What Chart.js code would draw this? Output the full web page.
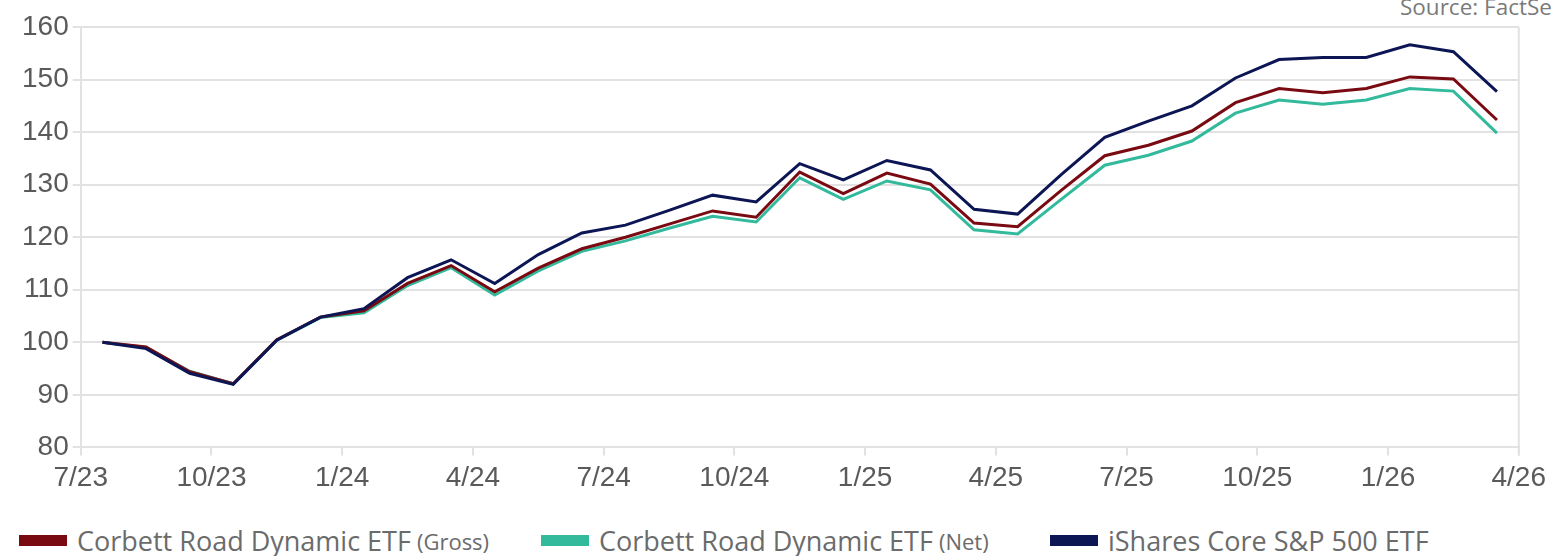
<!DOCTYPE html>
<html>
<head>
<meta charset="utf-8">
<script src="https://cdn.jsdelivr.net/npm/chart.js@4.4.1/dist/chart.umd.min.js"></script>
<style>
  html, body { margin: 0; padding: 0; background: #fff; overflow: hidden; }
  body { width: 1552px; height: 556px; position: relative; }
  #wrap { position: absolute; left: 0; top: 0; width: 1552px; height: 501px; }
  #source {
    position: absolute; left: 1400px; top: -9px; white-space: nowrap;
    font-family: "Open Sans", sans-serif; font-size: 22.5px; color: #7a7a7a;
  }
  #legend {
    position: absolute; left: 0; top: 522px; width: 1552px; height: 34px;
    font-family: "Open Sans", sans-serif; color: #6b6b6b; font-size: 27px;
  }
  .item { position: absolute; top: 0; display: flex; align-items: center; white-space: nowrap; }
  .swatch { width: 48px; height: 11px; margin-right: 10px; }
  .item small { font-size: 22px; margin-left: 6px; }
</style>
</head>
<body>
<div id="source">Source: FactSet</div>
<div id="wrap"><canvas id="chart"></canvas></div>
<div id="legend"></div>
<script>
// ── Data (monthly growth of 100, first point mid 7/23) ──
const months = [
  "Jul 23","Aug 23","Sep 23","Oct 23","Nov 23","Dec 23",
  "Jan 24","Feb 24","Mar 24","Apr 24","May 24","Jun 24",
  "Jul 24","Aug 24","Sep 24","Oct 24","Nov 24","Dec 24",
  "Jan 25","Feb 25","Mar 25","Apr 25","May 25","Jun 25",
  "Jul 25","Aug 25","Sep 25","Oct 25","Nov 25","Dec 25",
  "Jan 26","Feb 26","Mar 26"
];
const quarterLabels = ["7/23","10/23","1/24","4/24","7/24","10/24","1/25","4/25","7/25","10/25","1/26","4/26"];
const yTicks = [80, 90, 100, 110, 120, 130, 140, 150, 160];

const gross = [
  100.0, 99.1, 94.4, 92.1, 100.5, 104.8, 106.0, 111.2, 114.6, 109.6, 114.1,
  117.8, 120.0, 122.5, 125.0, 123.8, 132.4, 128.3, 132.2, 130.1, 122.7, 122.0,
  128.9, 135.5, 137.5, 140.2, 145.6, 148.3, 147.5, 148.3, 150.5, 150.1, 142.3
];
const net = [
  100.0, 99.0, 94.5, 92.1, 100.4, 104.7, 105.6, 110.8, 114.2, 109.0, 113.6,
  117.3, 119.3, 121.7, 124.0, 122.9, 131.3, 127.2, 130.7, 129.0, 121.4, 120.6,
  127.2, 133.7, 135.6, 138.3, 143.6, 146.1, 145.3, 146.1, 148.3, 147.8, 139.8
];
const ivv = [
  100.0, 98.8, 94.1, 92.0, 100.4, 104.8, 106.4, 112.3, 115.7, 111.2, 116.7,
  120.8, 122.3, 125.1, 128.0, 126.7, 134.0, 130.9, 134.6, 132.8, 125.3, 124.4,
  131.9, 139.0, 142.1, 145.0, 150.3, 153.8, 154.2, 154.2, 156.6, 155.3, 147.7
];

const series = [
  { label: "Corbett Road Dynamic ETF", note: "(Gross)", data: gross, color: "#7a0a12", order: 1, legendX: 19 },
  { label: "Corbett Road Dynamic ETF", note: "(Net)",   data: net,   color: "#33b99b", order: 2, legendX: 541 },
  { label: "iShares Core S&P 500 ETF", note: "",        data: ivv,   color: "#0c1655", order: 0, legendX: 1050 }
];

// points sit mid-month on a month axis starting at 7/23
const toPoints = arr => arr.map((v, i) => ({ x: i + 0.5, y: v }));

const gridColor = "#e2e2e2";
const tickFont  = { family: "'Liberation Sans', Arial, sans-serif", size: 28 };

// right-hand frame line
const frame = {
  id: "frame",
  afterDraw(chart) {
    const { ctx, chartArea: a } = chart;
    ctx.save();
    ctx.strokeStyle = gridColor;
    ctx.lineWidth = 2;
    ctx.beginPath();
    ctx.moveTo(a.right, a.top);
    ctx.lineTo(a.right, a.bottom + 8);
    ctx.stroke();
    ctx.restore();
  }
};

const chart = new Chart(document.getElementById("chart"), {
  type: "line",
  data: {
    datasets: series.map(s => ({
      label: s.label + (s.note ? " " + s.note : ""),
      data: toPoints(s.data),
      borderColor: s.color,
      backgroundColor: s.color,
      borderWidth: 3,
      pointRadius: 0,
      tension: 0,
      order: s.order
    }))
  },
  options: {
    responsive: true,
    maintainAspectRatio: false,
    animation: false,
    layout: { padding: { left: 18, right: 25, top: 27, bottom: 0 } },
    plugins: { legend: { display: false }, tooltip: { enabled: false } },
    scales: {
      x: {
        type: "linear",
        min: 0, max: (quarterLabels.length - 1) * 3,
        afterBuildTicks: ax => { ax.ticks = quarterLabels.map((_, i) => ({ value: i * 3 })); },
        ticks: {
          callback: v => quarterLabels[v / 3],
          font: tickFont, color: "#5a5a5a", padding: 6, maxRotation: 0, autoSkip: false
        },
        grid: { drawOnChartArea: false, color: gridColor, lineWidth: 2, tickLength: 8 },
        border: { color: gridColor, width: 2 }
      },
      y: {
        min: yTicks[0], max: yTicks[yTicks.length - 1],
        afterBuildTicks: ax => { ax.ticks = yTicks.map(v => ({ value: v })); },
        ticks: { font: tickFont, color: "#5a5a5a", padding: 4 },
        grid: { color: gridColor, lineWidth: 2, tickLength: 8 },
        border: { color: gridColor, width: 2 }
      }
    }
  },
  plugins: [frame]
});

// ── HTML legend (mixed font sizes) ──
const legend = document.getElementById("legend");
series.forEach(s => {
  const item = document.createElement("div");
  item.className = "item";
  item.style.left = s.legendX + "px";
  item.innerHTML = `<span class="swatch" style="background:${s.color}"></span>` +
    `<span>${s.label.replace("&", "&amp;")}</span>` + (s.note ? `<small>${s.note}</small>` : "");
  legend.appendChild(item);
});
</script>
</body>
</html>
